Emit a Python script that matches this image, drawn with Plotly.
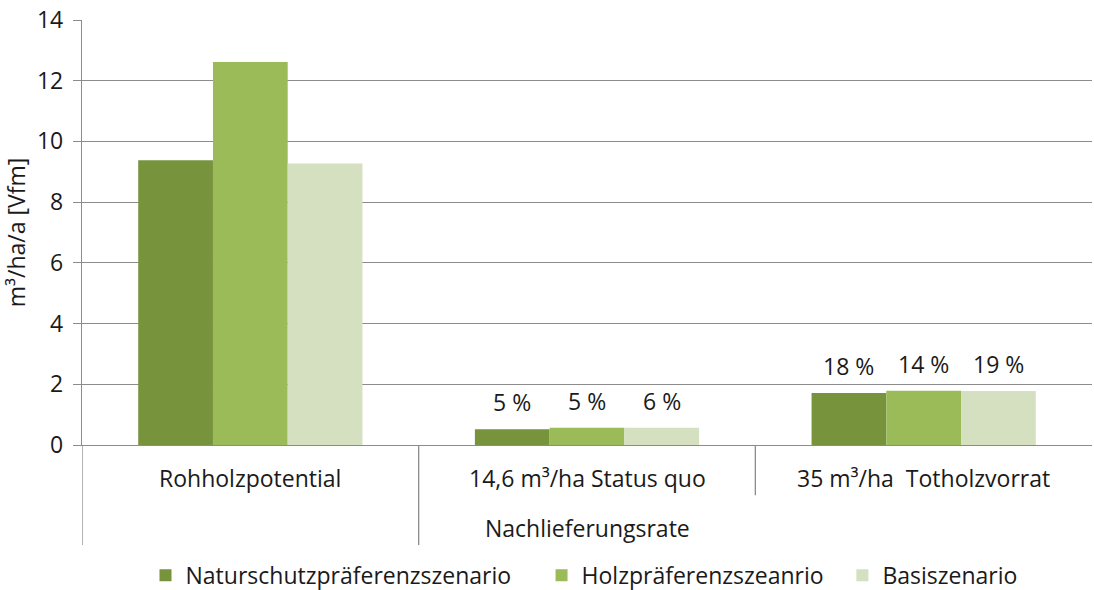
import plotly.graph_objects as go

categories = ["Rohholzpotential", "14,6 m³/ha Status quo", "35 m³/ha  Totholzvorrat"]
group_label = "Nachlieferungsrate"
series_names = ["Naturschutzpräferenzszenario", "Holzpräferenzszeanrio", "Basiszenario"]
natur = [9.38, 0.52, 1.71]
holz = [12.62, 0.57, 1.79]
basis = [9.27, 0.57, 1.78]
natur_labels = [None, "5 %", "18 %"]
holz_labels = [None, "5 %", "14 %"]
basis_labels = [None, "6 %", "19 %"]
y_ticks = [0, 2, 4, 6, 8, 10, 12, 14]

colors = ["#77933C", "#9BBB59", "#D4E0C0"]
font_family = "'Open Sans', 'Noto Sans', sans-serif"
text_color = "#1a1a1a"
fsize = 23
grid_color = "#8C8C8C"
bargap = 0.334
# left edge (fraction of figure width) of each legend entry
legend_x = [0.133, 0.495, 0.770]

series = [natur, holz, basis]
labels = [natur_labels, holz_labels, basis_labels]
legend_ids = ["legend", "legend2", "legend3"]

fig = go.Figure()
for name, vals, col, lid in zip(series_names, series, colors, legend_ids):
    fig.add_trace(go.Bar(x=categories, y=vals, name=name, legend=lid, showlegend=True,
                         marker=dict(color=col, line=dict(width=0))))

# value labels above the two Nachlieferungsrate groups
bar_w = (1 - bargap) / len(series)
annotations = []
for k, (vals, labs) in enumerate(zip(series, labels)):
    off = (k - (len(series) - 1) / 2) * bar_w
    for i, (v, lab) in enumerate(zip(vals, labs)):
        if lab:
            annotations.append(dict(x=i + off, y=v, xref="x", yref="y", text=lab,
                                    showarrow=False, yanchor="bottom", yshift=9,
                                    font=dict(size=fsize, color=text_color, family=font_family)))

# category labels below the axis
for i, c in enumerate(categories):
    annotations.append(dict(x=i, y=-0.078, xref="x", yref="paper", text=c, showarrow=False,
                            yanchor="middle", font=dict(size=fsize, color=text_color, family=font_family)))
annotations.append(dict(x=1, y=-0.195, xref="x", yref="paper", text=group_label, showarrow=False,
                        yanchor="middle", font=dict(size=fsize, color=text_color, family=font_family)))

# separators of the two-level category axis
shapes = [
    dict(type="line", xref="x", yref="paper", x0=-0.5, x1=-0.5, y0=0, y1=-0.235,
         line=dict(color=grid_color, width=1.3)),
    dict(type="line", xref="x", yref="paper", x0=0.5, x1=0.5, y0=0, y1=-0.235,
         line=dict(color=grid_color, width=1.3)),
    dict(type="line", xref="x", yref="paper", x0=1.5, x1=1.5, y0=0, y1=-0.118,
         line=dict(color=grid_color, width=1.3)),
]

legend_style = dict(orientation="h", xref="container", xanchor="left",
                    y=0.025, yref="container", yanchor="middle",
                    font=dict(size=fsize, family=font_family), itemwidth=30,
                    bgcolor="rgba(0,0,0,0)")

fig.update_layout(
    width=1094, height=590,
    margin=dict(l=82, r=2, t=20, b=145),
    paper_bgcolor="white", plot_bgcolor="white",
    showlegend=True,
    barmode="group", bargap=bargap, bargroupgap=0,
    font=dict(family=font_family, size=fsize, color=text_color),
    annotations=annotations, shapes=shapes,
    legend=dict(x=legend_x[0], **legend_style),
    legend2=dict(x=legend_x[1], **legend_style),
    legend3=dict(x=legend_x[2], **legend_style),
    xaxis=dict(showticklabels=False, showline=True, linecolor=grid_color, linewidth=1.3,
               ticks="", showgrid=False, zeroline=False, range=[-0.5, 2.5]),
    yaxis=dict(range=[0, 14], tickvals=y_ticks, showgrid=True, gridcolor=grid_color, gridwidth=1.3,
               showline=True, linecolor=grid_color, linewidth=1.3, ticks="outside", ticklen=8,
               tickcolor=grid_color, tickwidth=1.3, zeroline=False, ticklabelstandoff=5,
               title=dict(text="m³/ha/a [Vfm]", standoff=6, font=dict(size=fsize))),
)

fig.write_html("out.html")
